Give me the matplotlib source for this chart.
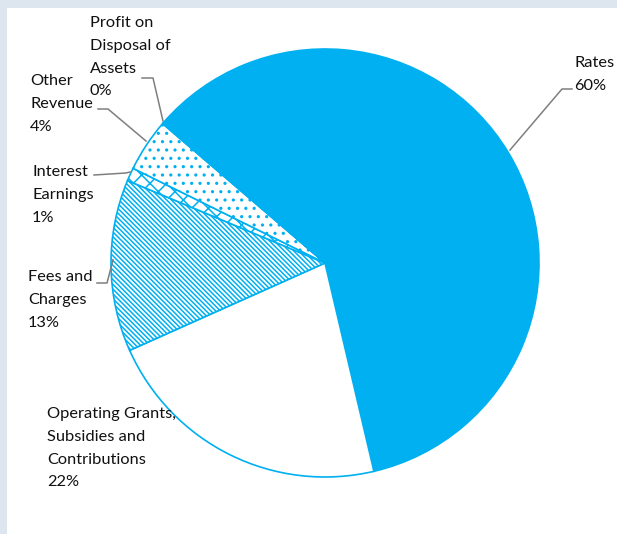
import matplotlib.pyplot as plt
from matplotlib.patches import Rectangle

# revenue shares (percent), clockwise from the top-left
categories = ['Rates', 'Operating Grants,\nSubsidies and\nContributions', 'Fees and\nCharges',
              'Interest\nEarnings', 'Other\nRevenue', 'Profit on\nDisposal of\nAssets']
shares = [60, 22, 13, 1, 4, 0.1]
pct_labels = ['60%', '22%', '13%', '1%', '4%', '0%']

blue = '#00B0F0'
plt.rcParams['font.family'] = ['Lato', 'DejaVu Sans']
plt.rcParams['hatch.linewidth'] = 1.1

W, H = 617, 534
fig = plt.figure(figsize=(W / 100, H / 100), dpi=100)
fig.patch.set_facecolor('#dde6ef')
ax = fig.add_axes([0, 0, 1, 1])
ax.add_patch(Rectangle((7, 0), W, H - 8, facecolor='white', edgecolor='none', zorder=0))

wedges, _ = ax.pie(shares, center=(325, H - 263), radius=214, startangle=139,
                   counterclock=False, frame=True)
ax.set_xlim(0, W)
ax.set_ylim(0, H)
ax.axis('off')

styles = [('', blue), ('', 'white'), ('\\' * 7, 'white'), ('xx', 'white'),
          ('..', 'white'), ('', 'white')]
for w, (hatch, fc) in zip(wedges, styles):
    w.set_facecolor(fc)
    w.set_edgecolor(blue)
    w.set_hatch(hatch)
    w.set_linewidth(1.2)
    w.set_zorder(2)

# label positions (pixel, top-left) and leader lines
label_pos = [(574, 52), (47, 403), (28, 266), (32, 161), (30, 70), (90, 12)]
for name, pct, (x, y) in zip(categories, pct_labels, label_pos):
    ax.text(x, H - y - 4, name + '\n' + pct, fontsize=11.8, va='top', ha='left',
            linespacing=1.8, color='#111111', zorder=3)

leaders = [
    [(572, 89), (562, 89), (510, 150)],
    [(97, 283), (107, 283), (113, 260)],
    [(94, 175), (126, 173), (130, 172)],
    [(98, 109), (108, 109), (146, 141)],
    [(142, 78), (153, 78), (163, 121)],
]
for pts in leaders:
    xs = [p[0] for p in pts]
    ys = [H - p[1] for p in pts]
    ax.plot(xs, ys, color='#7f7f7f', lw=1.1, zorder=3)

fig.savefig('out.png', dpi=100, facecolor=fig.get_facecolor())
